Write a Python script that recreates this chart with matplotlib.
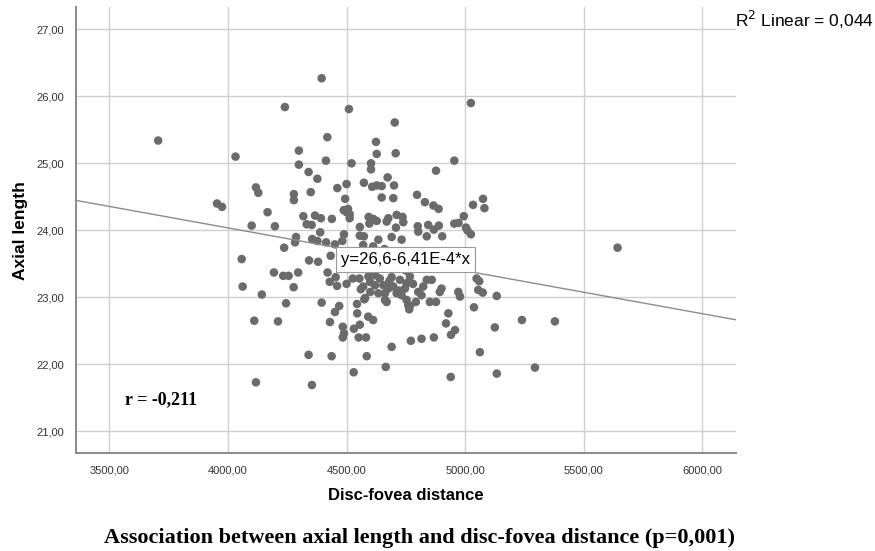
import matplotlib
matplotlib.use("Agg")
import matplotlib.pyplot as plt
import numpy as np

# Data (disc-fovea distance, axial length)
disc_fovea = [
    3706, 4032, 4240, 4299, 4299, 4118, 4128, 3954, 3975, 4167, 4278, 4278, 4100, 4198, 4237,
    4287, 4283, 4058, 4062, 4143, 4111, 4211, 4194, 4233, 4256, 4277, 4245, 4118, 4296,
    4395, 4510, 4419, 4413, 4521, 4603, 4603, 4340, 4377, 4500, 4461, 4573, 4349, 4494, 4488,
    4506, 4513, 4500, 4318, 4367, 4392, 4438, 4556, 4593, 4332, 4353,
    5024, 4703, 4624, 4627, 4707, 4954, 4877, 4673, 4608, 4627, 4648, 4700, 4648, 4697, 4797,
    4830, 4866, 4888, 5075, 5033, 5081, 4994, 4612, 4627, 4596, 4676, 4669, 4711, 4736, 4739,
    4800, 4844, 4889, 4954, 4972, 5003, 4708,
    4389, 4355, 4377, 4414, 4451, 4489, 4482, 4342, 4380, 4433, 4420, 4429, 4454, 4460, 4500,
    4526, 4554, 4395, 4469, 4451, 4544, 4575, 4430, 4484, 4489, 4484, 4531, 4556, 4551, 4582,
    4340, 4437, 4585, 4530, 4354, 4868, 4838, 4903, 5009, 5024, 4573, 4570, 4634, 4690, 4732,
    4802, 5048, 5059, 5055, 5074, 5133, 5037, 5239, 5125, 5062, 5133, 4939, 4929, 4919, 4957,
    4940, 4868, 4816, 4771, 4690, 4665, 4612, 4591, 4662, 4669, 4753, 4767, 4792, 4851, 4877,
    4634, 4662, 4711, 4732, 4802, 4816, 4893, 4900, 4971, 4978, 4570, 4599, 4620, 4655, 4676,
    4697, 4725, 4753, 4767, 4823, 4838, 4859, 4578, 4592, 4545, 4760, 4764, 5294, 5642, 5378,
    4513, 4556, 4746, 4612, 4660, 4600, 4650, 4700, 4800, 4900, 4750,
    4640, 4690, 4720, 4780, 4600, 4560, 4620, 4680,
]
axial_length = [
    25.34, 25.10, 25.84, 25.19, 24.98, 24.64, 24.56, 24.40, 24.35, 24.27, 24.54, 24.45, 24.07, 24.06, 23.74,
    23.90, 23.82, 23.57, 23.16, 23.04, 22.65, 22.64, 23.37, 23.32, 23.32, 23.15, 22.91, 21.73, 23.37,
    26.27, 25.81, 25.39, 25.04, 25.00, 25.00, 24.91, 24.87, 24.77, 24.69, 24.63, 24.71, 24.57, 24.47, 24.30,
    24.32, 24.24, 24.27, 24.21, 24.22, 24.18, 24.17, 24.05, 24.20, 24.09, 24.08,
    25.90, 25.61, 25.32, 25.14, 25.15, 25.04, 24.89, 24.79, 24.65, 24.67, 24.66, 24.67, 24.49, 24.48, 24.53,
    24.42, 24.37, 24.32, 24.47, 24.38, 24.33, 24.21, 24.17, 24.14, 24.10, 24.18, 24.13, 24.23, 24.20, 24.12,
    24.06, 24.08, 24.07, 24.10, 24.11, 24.04, 24.04,
    23.97, 23.87, 23.84, 23.82, 23.79, 23.94, 23.84, 23.55, 23.53, 23.62, 23.37, 23.23, 23.30, 23.17, 23.20,
    23.28, 23.28, 22.92, 22.87, 22.78, 22.90, 22.97, 22.63, 22.56, 22.46, 22.40, 22.53, 22.59, 22.40, 22.40,
    22.14, 22.12, 22.12, 21.88, 21.69, 24.01, 23.91, 23.91, 24.00, 23.94, 23.91, 23.78, 23.86, 23.90, 23.86,
    23.98, 23.28, 23.24, 23.11, 23.07, 23.02, 22.85, 22.66, 22.55, 22.18, 21.86, 21.81, 22.76, 22.61, 22.51,
    22.44, 22.40, 22.38, 22.35, 22.26, 21.96, 22.66, 22.71, 22.96, 22.93, 22.96, 22.87, 22.93, 22.93, 22.93,
    23.06, 23.06, 23.06, 23.03, 23.08, 23.03, 23.08, 23.13, 23.08, 23.01, 23.16, 23.23, 23.18, 23.18, 23.13,
    23.16, 23.26, 23.21, 23.31, 23.16, 23.26, 23.26, 22.99, 23.31, 22.76, 22.88, 22.82, 21.95, 23.74, 22.64,
    24.18, 23.92, 23.13, 23.76, 23.72, 23.50, 23.45, 23.55, 23.50, 23.60, 23.40,
    23.28, 23.30, 23.10, 23.20, 23.08, 23.12, 23.33, 23.24,
]
fit_intercept = 26.6
fit_slope = -6.41e-4
x_ticks = [3500, 4000, 4500, 5000, 5500, 6000]
y_ticks = [21, 22, 23, 24, 25, 26, 27]
x_tick_labels = ["3500,00", "4000,00", "4500,00", "5000,00", "5500,00", "6000,00"]
y_tick_labels = ["21,00", "22,00", "23,00", "24,00", "25,00", "26,00", "27,00"]

sans = ["Liberation Sans", "DejaVu Sans"]
serif = ["Liberation Serif", "DejaVu Serif"]

fig = plt.figure(figsize=(8.75, 5.51), dpi=100)
ax = fig.add_axes([0.0872, 0.1773, 0.7536, 0.8095])

xlim = (3361, 6140)
ylim = (20.67, 27.33)
ax.set_xlim(*xlim)
ax.set_ylim(*ylim)

ax.set_xticks(x_ticks)
ax.set_xticklabels(x_tick_labels, fontsize=8, family=sans, color="#333333")
ax.set_yticks(y_ticks)
ax.set_yticklabels(y_tick_labels, fontsize=8, family=sans, color="#333333")
ax.tick_params(length=0, pad=9)

ax.grid(True, color="#cfcfcf", linewidth=1.0)
ax.set_axisbelow(True)
for s in ["top", "right"]:
    ax.spines[s].set_visible(False)
for s in ["left", "bottom"]:
    ax.spines[s].set_color("#8a8a8a")
    ax.spines[s].set_linewidth(1.4)

ax.scatter(disc_fovea, axial_length, s=38, color="#6b6b6b", edgecolors="none", zorder=3)

xs = np.array(xlim)
ax.plot(xs, fit_intercept + fit_slope * xs, color="#8c8c8c", linewidth=1.0, zorder=4)

ax.text(4750, 23.56, "y=26,6-6,41E-4*x", fontsize=12, family=sans, ha="center", va="center",
        zorder=6, bbox=dict(boxstyle="square,pad=0.3", facecolor="white", edgecolor="#999999", linewidth=0.8))

ax.text(3566, 21.47, "r = -0,211", fontsize=13, family=serif, fontweight="bold", ha="left", va="center")

ax.set_xlabel("Disc-fovea distance", fontsize=12, family=sans, fontweight="bold", labelpad=9)
ax.set_ylabel("Axial length", fontsize=12.5, family=sans, fontweight="bold", labelpad=6)

fig.text(0.999, 0.963, "R$^2$ Linear = 0,044", fontsize=12.5, family=sans, ha="right", va="center")
fig.text(0.479, 0.024, "Association between axial length and disc-fovea distance (p=0,001)",
         fontsize=16, family=serif, fontweight="bold", ha="center", va="center")

fig.savefig("out.png", dpi=100)
